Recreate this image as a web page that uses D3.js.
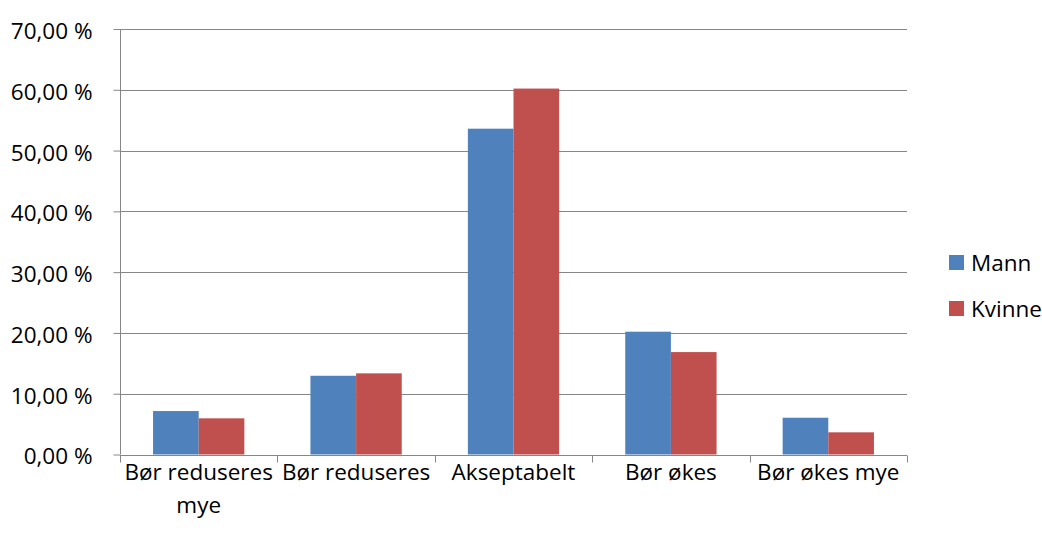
<!DOCTYPE html>
<html><head><meta charset="utf-8">
<script src="https://cdn.jsdelivr.net/npm/d3@7"></script>
<style>body{margin:0;background:#fff}svg{display:block}</style>
</head><body>
<script>
const categories = ["Bør reduseres mye", "Bør reduseres", "Akseptabelt", "Bør økes", "Bør økes mye"];
const seriesNames = ["Mann", "Kvinne"];
const mann = [7.15, 12.95, 53.6, 20.2, 6.05];
const kvinne = [5.95, 13.35, 60.2, 16.85, 3.65];
const yTicks = [0, 10, 20, 30, 40, 50, 60, 70];
const colors = ["#4F81BD", "#C0504D"];

const W = 1042, H = 541;
const m = {left: 120, right: 907, top: 29, bottom: 454.5};
const svg = d3.select("body").append("svg").attr("width", W).attr("height", H);
const font = "'Open Sans', sans-serif";
const fs = 22.5;

const x = d3.scaleBand().domain(categories).range([m.left, m.right]).paddingInner(0.42).paddingOuter(0.21);
const xs = d3.scaleBand().domain(seriesNames).range([0, x.bandwidth()]);
const y = d3.scaleLinear().domain([0, 70]).range([m.bottom, m.top]);
const fmt = v => d3.format(".2f")(v).replace(".", ",") + " %";

// gridlines
svg.append("g").selectAll("line").data(yTicks.filter(t => t > 0)).join("line")
  .attr("x1", m.left).attr("x2", m.right)
  .attr("y1", d => Math.round(y(d)) + 0.5).attr("y2", d => Math.round(y(d)) + 0.5)
  .attr("stroke", "#868686").attr("stroke-width", 1);

// bars
const data = categories.map((c, i) => ({c, vals: [mann[i], kvinne[i]]}));
const g = svg.append("g").selectAll("g").data(data).join("g");
g.selectAll("rect").data(d => d.vals.map((v, j) => ({c: d.c, v, s: seriesNames[j], j}))).join("rect")
  .attr("x", d => x(d.c) + xs(d.s))
  .attr("width", xs.bandwidth())
  .attr("y", d => y(d.v))
  .attr("height", d => y(0) - y(d.v))
  .attr("fill", d => colors[d.j]);

// y axis
const yAxis = d3.axisLeft(y).tickValues(yTicks).tickFormat(fmt).tickSize(7).tickPadding(21);
const ya = svg.append("g").attr("transform", `translate(${m.left + 0.5},0)`).call(yAxis);
ya.select(".domain").attr("stroke", "#868686").attr("d", `M0,${m.top}V${m.bottom}`);
ya.selectAll(".tick line").attr("stroke", "#868686");
ya.selectAll(".tick text").attr("font-family", font).attr("font-size", fs).attr("fill", "#000").attr("dy", "0.42em");

// x axis
const xa = svg.append("g").attr("transform", `translate(0,${Math.round(y(0)) + 0.5})`);
xa.append("line").attr("x1", m.left).attr("x2", m.right).attr("stroke", "#868686");
const bounds = d3.range(categories.length + 1).map(i => m.left + i * (m.right - m.left) / categories.length);
xa.selectAll(".xt").data(bounds).join("line").attr("class", "xt")
  .attr("x1", d => Math.round(d) + 0.5).attr("x2", d => Math.round(d) + 0.5)
  .attr("y1", 0).attr("y2", 7).attr("stroke", "#868686");

// category labels
const wrapLines = {"Bør reduseres mye": ["Bør reduseres", "mye"]};
categories.forEach(c => {
  const lines = wrapLines[c] || [c];
  const t = svg.append("text").attr("x", x(c) + x.bandwidth() / 2).attr("y", 480)
    .attr("text-anchor", "middle").attr("font-family", font).attr("font-size", fs).attr("fill", "#000");
  lines.forEach((l, i) => t.append("tspan").attr("x", x(c) + x.bandwidth() / 2).attr("dy", i ? 33 : 0).text(l));
});

// legend
const lg = svg.append("g").selectAll("g").data(seriesNames).join("g")
  .attr("transform", (d, i) => `translate(949,${255 + i * 46})`);
lg.append("rect").attr("width", 15).attr("height", 15).attr("fill", (d, i) => colors[i]);
lg.append("text").attr("x", 22).attr("y", 16).attr("font-family", font).attr("font-size", fs).attr("fill", "#000").text(d => d);
</script>
</body></html>
